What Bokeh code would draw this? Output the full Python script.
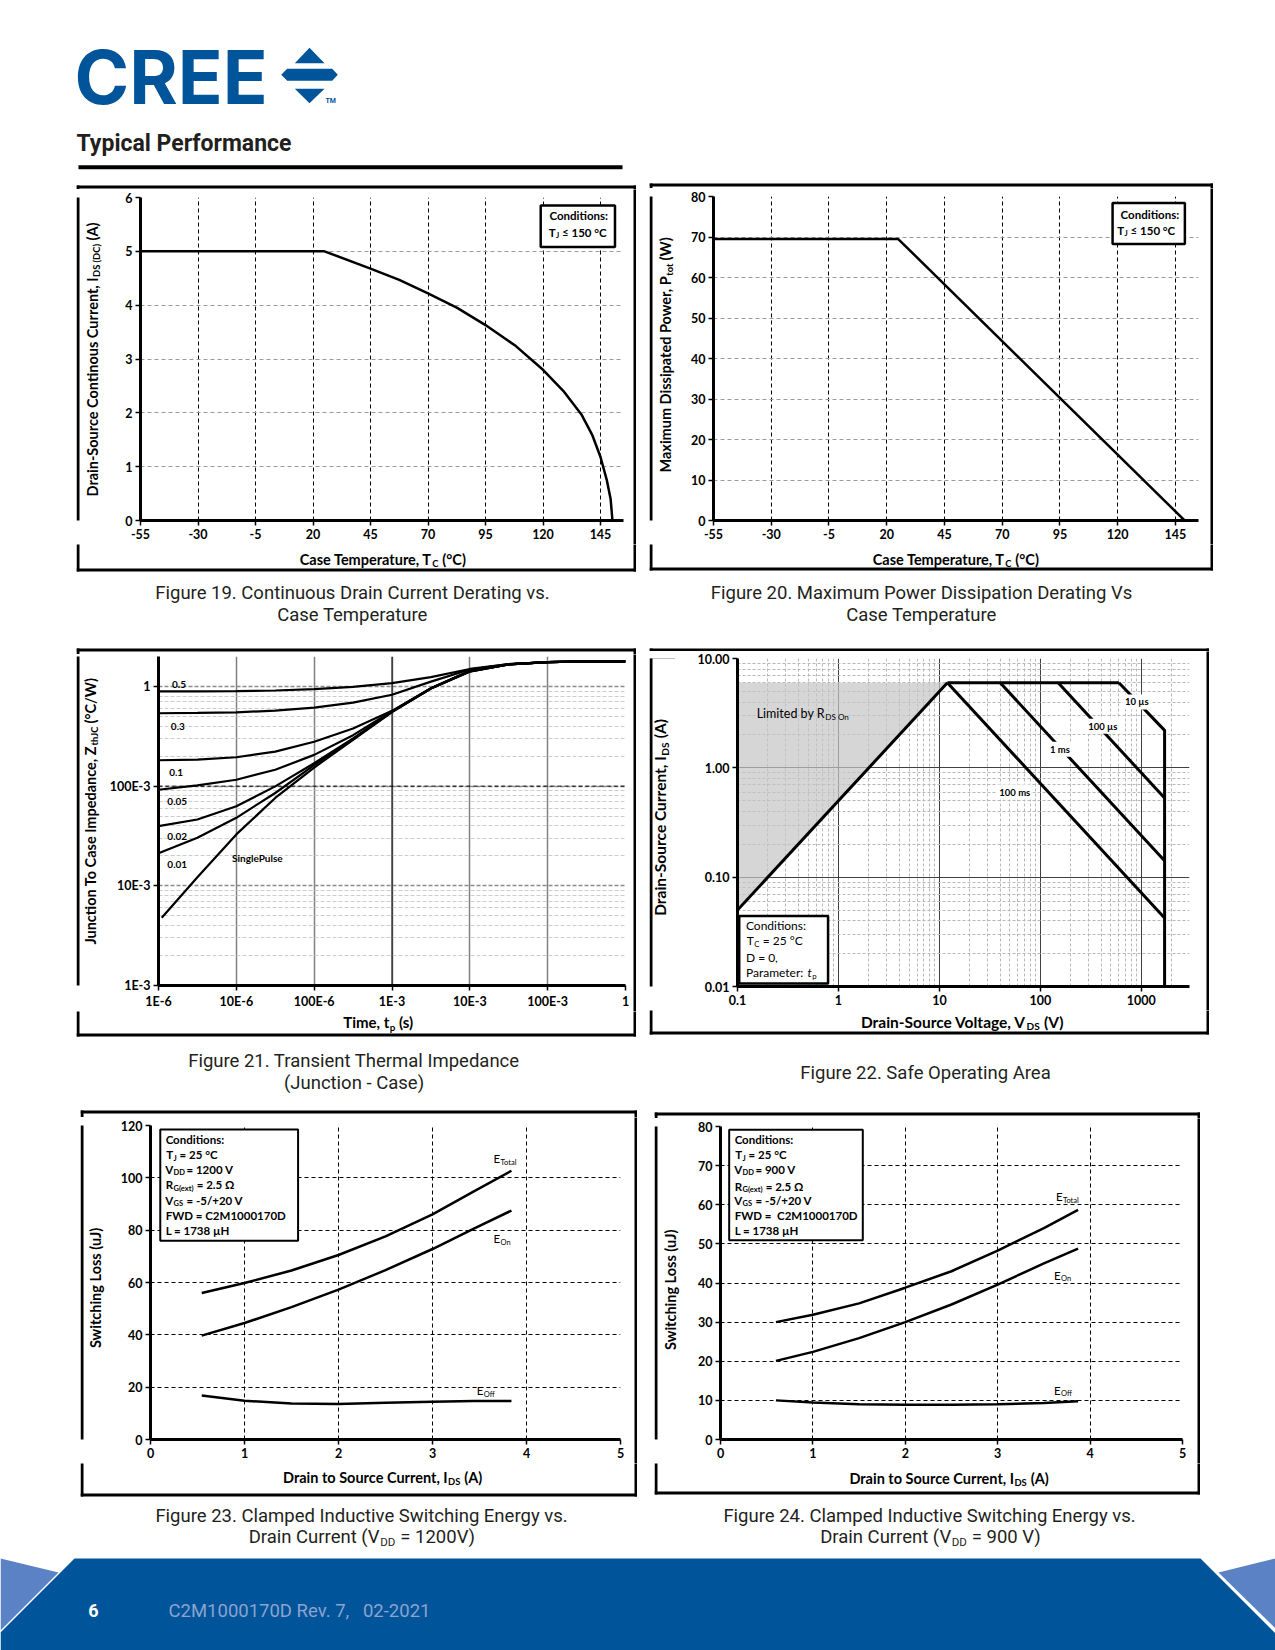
import math
from bokeh.plotting import figure
from bokeh.layouts import row, column
from bokeh.models import Range1d, Label, Spacer, FixedTicker, CustomJSTickFormatter, Span
from bokeh.embed import file_html
from bokeh.resources import INLINE

# ---------------- data ----------------
temp_ticks = [-55, -30, -5, 20, 45, 70, 95, 120, 145]

# Figure 19 : continuous drain current derating
tc_19 = [-55, 25, 45, 57.5, 70, 82.7, 95, 108.2, 120, 128.8, 136.7, 141.5, 145, 147.8, 149.4, 150.2]
ids_19 = [5.0, 5.0, 4.68, 4.47, 4.22, 3.95, 3.63, 3.24, 2.80, 2.41, 1.97, 1.58, 1.18, 0.74, 0.40, 0.0]
ids_ticks_19 = [0, 1, 2, 3, 4, 5, 6]

# Figure 20 : maximum power dissipation derating
tc_20 = [-55, 25, 149]
ptot_20 = [69.5, 69.5, 0.0]
ptot_ticks_20 = [0, 10, 20, 30, 40, 50, 60, 70, 80]

# Figure 21 : transient thermal impedance
tp_21 = [1e-6, 3.16e-6, 1e-5, 3.16e-5, 1e-4, 3.16e-4, 1e-3, 3.16e-3, 1e-2, 3.16e-2, 1e-1, 3.16e-1, 1.0]
zth_d050 = [0.892, 0.892, 0.899, 0.912, 0.941, 0.992, 1.08, 1.24, 1.50, 1.68, 1.76, 1.79, 1.79]
zth_d030 = [0.539, 0.543, 0.551, 0.573, 0.613, 0.688, 0.826, 1.12, 1.48, 1.68, 1.76, 1.79, 1.79]
zth_d010 = [0.182, 0.185, 0.195, 0.222, 0.279, 0.379, 0.570, 0.960, 1.44, 1.67, 1.76, 1.79, 1.79]
zth_d005 = [0.0921, 0.1018, 0.116, 0.146, 0.206, 0.325, 0.565, 0.958, 1.43, 1.67, 1.76, 1.79, 1.79]
zth_d002 = [0.0398, 0.0463, 0.0629, 0.0995, 0.170, 0.301, 0.560, 0.956, 1.42, 1.67, 1.76, 1.79, 1.79]
zth_d001 = [0.0212, 0.0304, 0.0481, 0.0854, 0.163, 0.297, 0.558, 0.955, 1.42, 1.67, 1.76, 1.79, 1.79]
tp_21_single = [1.1e-6, 3.16e-6, 1e-5, 3.16e-5, 1e-4, 3.16e-4, 1e-3, 3.16e-3, 1e-2, 3.16e-2, 1e-1, 3.16e-1, 1.0]
zth_single = [0.00479, 0.01217, 0.0328, 0.0761, 0.1538, 0.292, 0.555, 0.953, 1.41, 1.67, 1.76, 1.79, 1.79]
duty_names = ["0.5", "0.3", "0.1", "0.05", "0.02", "0.01", "SinglePulse"]
duty_label_t = [1.49e-6, 1.44e-6, 1.37e-6, 1.3e-6, 1.3e-6, 1.3e-6, 8.8e-6]
duty_label_z = [1.047, 0.394, 0.137, 0.0705, 0.0316, 0.01626, 0.0192]
tp_ticks_21 = [1e-6, 1e-5, 1e-4, 1e-3, 1e-2, 1e-1, 1.0]
tp_labels_21 = ["1E-6", "10E-6", "100E-6", "1E-3", "10E-3", "100E-3", "1"]
zth_ticks_21 = [1e-3, 1e-2, 1e-1, 1.0]
zth_labels_21 = ["1E-3", "10E-3", "100E-3", "1"]

# Figure 22 : safe operating area
vds_rds = [0.1, 12]
ids_rds = [0.05, 6]
vds_top = [12, 600]
ids_top = [6, 6]
vds_10us = [600, 1700, 1700]
ids_10us = [6, 2.2, 0.01]
vds_100us = [150, 1700]
ids_100us = [6, 0.53]
vds_1ms = [40, 1700]
ids_1ms = [6, 0.141]
vds_100ms = [12, 1700]
ids_100ms = [6, 0.0424]
shade_vds = [0.1, 0.1, 12]
shade_ids = [0.05, 6, 6]
soa_names = ["10 µs", "100 µs", "1 ms", "100 ms"]
soa_label_v = [902, 415, 156, 55.8]
soa_label_i = [4.01, 2.40, 1.48, 0.60]
vds_ticks_22 = [0.1, 1, 10, 100, 1000]
vds_labels_22 = ["0.1", "1", "10", "100", "1000"]
ids_ticks_22 = [0.01, 0.1, 1, 10]
ids_labels_22 = ["0.01", "0.10", "1.00", "10.00"]

# Figure 23 : switching energy, VDD = 1200 V
ids_23 = [0.545, 1.0, 1.5, 2.0, 2.5, 3.0, 3.44, 3.84]
etot_23 = [56.0, 59.8, 64.6, 70.5, 77.6, 86.0, 94.8, 102.7]
eon_23 = [39.7, 44.5, 50.6, 57.3, 64.7, 72.8, 80.6, 87.5]
eoff_23 = [16.8, 14.8, 13.8, 13.6, 14.0, 14.4, 14.7, 14.7]
e_ticks_23 = [0, 20, 40, 60, 80, 100, 120]

# Figure 24 : switching energy, VDD = 900 V
ids_24 = [0.6, 1.0, 1.5, 2.0, 2.5, 3.0, 3.5, 3.87]
etot_24 = [30.0, 31.9, 34.8, 38.8, 43.0, 48.3, 54.0, 58.7]
eon_24 = [20.1, 22.4, 25.9, 30.0, 34.5, 39.6, 45.0, 48.8]
eoff_24 = [10.0, 9.45, 9.0, 8.85, 8.85, 9.0, 9.36, 9.8]
e_ticks_24 = [0, 10, 20, 30, 40, 50, 60, 70, 80]
ids_ticks_sw = [0, 1, 2, 3, 4, 5]

# ---------------- helpers ----------------
NB = "\u00a0"
CW = {' ': 0.2, NB: 0.2, 'i': 0.25, 'l': 0.25, 'j': 0.25, 'I': 0.3, 't': 0.35, 'f': 0.33,
      'r': 0.37, 's': 0.42, 'c': 0.46, 'z': 0.44, 'J': 0.4, '.': 0.22, ',': 0.22, ':': 0.25,
      '(': 0.31, ')': 0.31, '-': 0.33, '/': 0.4, '°': 0.38, '=': 0.58, '+': 0.58, '≤': 0.58,
      'm': 0.82, 'w': 0.76, 'M': 0.88, 'W': 0.95, 'Ω': 0.72, 'µ': 0.56, 'y': 0.5, 'v': 0.5}


def est(s, size):
    w = 0.0
    for ch in s:
        if ch in CW:
            w += CW[ch]
        elif ch.isdigit():
            w += 0.58
        elif ch.isupper():
            w += 0.66
        else:
            w += 0.53
    return w * size


def nb(s):
    """keep leading/trailing/multiple spaces visible in SVG text"""
    if not s:
        return s
    n = len(s) - len(s.lstrip(" "))
    m = len(s) - len(s.rstrip(" "))
    core = s.strip(" ").replace("  ", NB + NB)
    return NB * n + core + NB * m


def put(p, x, y, text, units="data", xo=0.0, yo=0.0, size=12.0, align="left", style="bold",
        font="Lato", color="black", angle=0.0, baseline="middle", **kw):
    p.add_layout(Label(x=x, y=y, x_units=units, y_units=units, x_offset=xo, y_offset=yo,
                       text=nb(text), angle=angle, text_align=align, text_baseline=baseline,
                       text_font=font, text_font_size=f"{size:.1f}px", text_font_style=style,
                       text_color=color, **kw))


def rich(p, x, y, pre, sub="", post="", size=15.0, angle=0.0, align="center",
         style="bold", font="Lato", color="black", sub_scale=0.65, sub_style=None, shift=0.0):
    ssz = size * sub_scale
    w_pre, w_sub, w_post = est(pre, size), est(sub, ssz), est(post, size)
    total = w_pre + w_sub + w_post
    start = {"left": 0.0, "center": -total / 2.0, "right": -total}[align] + shift
    anchor = start + w_pre

    def one(text, d, drop, sz, ta, st):
        if not text:
            return
        if angle == 0:
            xo, yo = d, -drop
        else:
            xo, yo = drop, d
        put(p, x, y, text, xo=xo, yo=yo, size=sz, align=ta, style=st, font=font,
            color=color, angle=angle)

    if not sub and not post:
        one(pre, start, 0.0, size, "left", style)
        return
    one(pre, anchor, 0.0, size, "right", style)
    one(sub, anchor + 0.03 * size, 0.29 * size, ssz, "left", sub_style or style)
    one(post, anchor + w_sub + 0.05 * size, 0.0, size, "left", style)


def band(x0, x1, y0, y1):
    """a plain figure whose data units are page pixels (y grows downwards)"""
    f = figure(width=int(x1 - x0), height=int(y1 - y0), x_range=Range1d(x0, x1),
               y_range=Range1d(y1, y0), output_backend="svg", toolbar_location=None,
               min_border=0, x_axis_type=None, y_axis_type=None, title=None,
               background_fill_color="white", border_fill_color="white")
    f.outline_line_color = None
    return f


def blk(w, h):
    """solid black strip (used for the right-hand frame border)"""
    f = figure(width=int(w), height=int(h), output_backend="svg", toolbar_location=None,
               min_border=0, x_axis_type=None, y_axis_type=None, title=None,
               background_fill_color="black", border_fill_color="black")
    f.outline_line_color = None
    return f


LINFMT = "return String(tick);"
LOGFMT = """
let best = 0, bd = 1e9;
for (let i = 0; i < vals.length; i++) {
  const d = Math.abs(Math.log10(tick) - Math.log10(vals[i]));
  if (d < bd) { bd = d; best = i; }
}
return labs[best];
"""


def logfmt(vals, labs):
    return CustomJSTickFormatter(args=dict(vals=vals, labs=labs), code=LOGFMT)


def chart(frame, m, xr, yr, xt="linear", yt="linear"):
    fx0, fy0, fx1, fy1 = frame
    ml, mr, mt, mb = m
    p = figure(width=int(fx1 + mr - fx0 + ml), height=int(fy1 + mb - fy0 + mt),
               x_range=xr, y_range=yr, x_axis_type=xt, y_axis_type=yt,
               output_backend="svg", toolbar_location=None, title=None,
               min_border_left=ml, min_border_right=mr, min_border_top=mt, min_border_bottom=mb,
               background_fill_color="white", border_fill_color="white")
    p.outline_line_color = None
    for ax in (p.xaxis[0], p.yaxis[0]):
        ax.axis_line_width = 3
        ax.axis_line_color = "black"
        ax.major_tick_line_width = 1.5
        ax.major_tick_line_color = "black"
        ax.major_tick_in = 0
        ax.major_tick_out = 5
        ax.minor_tick_line_color = None
        ax.major_label_text_font = "Lato"
        ax.major_label_text_font_size = "12.5px"
        ax.major_label_text_font_style = "bold"
        ax.major_label_text_color = "black"
        ax.major_label_standoff = 3
        if (xt if ax is p.xaxis[0] else yt) == "linear":
            ax.formatter = CustomJSTickFormatter(code=LINFMT)
    return p


def set_ticks(p, xt, yt):
    p.xaxis[0].ticker = xt
    p.xgrid[0].ticker = xt
    p.yaxis[0].ticker = yt
    p.ygrid[0].ticker = yt


def dashed_grids(p, xcol, ycol):
    p.xgrid.grid_line_color = xcol
    p.xgrid.grid_line_dash = "4 3"
    p.xgrid.grid_line_width = 1
    p.ygrid.grid_line_color = ycol
    p.ygrid.grid_line_dash = "4 3"
    p.ygrid.grid_line_width = 1


def cond_box(p, l, r, b, t, lw=2.5):
    p.quad(left=[l], right=[r], bottom=[b], top=[t], fill_color="white", line_color="black",
           line_width=lw)


def block(p, box, frame, m, R0, R1, xtitle, ytitle):
    """chart figure surrounded by page-pixel bands holding the border and axis titles"""
    bx0, by0, bx1, by1 = box
    fx0, fy0, fx1, fy1 = frame
    ml, mr, mt, mb = m
    cx0, cx1, cy0, cy1 = fx0 - ml, fx1 + mr, fy0 - mt, fy1 + mb
    top = band(bx0, bx1, R0, cy0)
    left = band(bx0, cx0, cy0, cy1)
    bottom = band(bx0, bx1, cy1, R1)
    for f in (top, left, bottom):
        f.quad(left=[bx0, bx0, bx0, bx1 - 3], right=[bx1, bx1, bx0 + 3, bx1],
               top=[by0, by1 - 3, by0, by0], bottom=[by0 + 3, by1, by1, by1],
               fill_color="black", line_color=None)
    gap = (bx1 - 3) - cx1
    right_parts = ([Spacer(width=gap, height=cy1 - cy0)] if gap > 0 else []) + [blk(3, cy1 - cy0)]
    right = row(*right_parts)
    x, y, pre, sub, post, size = xtitle
    rich(bottom, x, y, pre, sub, post, size=size)
    x, y, pre, sub, post, size = ytitle
    rich(left, x, y, pre, sub, post, size=size, angle=math.pi / 2)
    return column(top, row(left, p, right), bottom)


# ---------------- page geometry (page pixels) ----------------
ROW_A = (170, 578)
ROW_B = (630, 1042)
ROW_C = (1095, 1500)

# ---------------- Figure 19 ----------------
F19, M19, B19 = (140, 197, 623, 520), (30, 5, 8, 24), (76, 185, 636, 571)
p19 = chart(F19, M19, Range1d(-55, 155), Range1d(0, 6))
set_ticks(p19, FixedTicker(ticks=temp_ticks), FixedTicker(ticks=ids_ticks_19))
dashed_grids(p19, "black", "#9a9a9a")
p19.line(tc_19, ids_19, line_width=2.5, color="black")
cond_box(p19, 119, 151.3, 5.08, 5.85)
rich(p19, 134.9, 5.66, "Conditions:", size=11.5)
rich(p19, 134.4, 5.35, "T", "J", " ≤ 150 °C", size=11.5)
blk19 = block(p19, B19, F19, M19, *ROW_A,
              (381.5, 559, "Case Temperature, T", "C", " (°C)", 14.5),
              (92, 363, "Drain-Source Continous Current, I", "DS (DC)", " (A)", 14.5))

# ---------------- Figure 20 ----------------
F20, M20, B20 = (713, 196, 1198, 520), (30, 5, 8, 24), (649, 183, 1213, 570)
p20 = chart(F20, M20, Range1d(-55, 155), Range1d(0, 80))
set_ticks(p20, FixedTicker(ticks=temp_ticks), FixedTicker(ticks=ptot_ticks_20))
dashed_grids(p20, "black", "#9a9a9a")
p20.line(tc_20, ptot_20, line_width=2.5, color="black")
cond_box(p20, 117.8, 149.1, 68.3, 78.4)
rich(p20, 133.3, 75.6, "Conditions:", size=11.5)
rich(p20, 131.7, 71.6, "T", "J", " ≤ 150 °C", size=11.5)
blk20 = block(p20, B20, F20, M20, *ROW_A,
              (954.5, 559, "Case Temperature, T", "C", " (°C)", 14.5),
              (665, 360, "Maximum Dissipated Power, P", "tot", " (W)", 14.5))

# ---------------- Figure 21 ----------------
F21, M21, B21 = (158, 656, 625, 987), (55, 6, 2, 24), (76, 648, 636, 1036)
p21 = chart(F21, M21, Range1d(1e-6, 1.0), Range1d(1e-3, 2.0), "log", "log")
zminor = [k * 10.0 ** e for e in range(-3, 0) for k in range(2, 10)] + [2.0]
set_ticks(p21, FixedTicker(ticks=tp_ticks_21, minor_ticks=[]),
          FixedTicker(ticks=zth_ticks_21, minor_ticks=zminor))
p21.xaxis[0].formatter = logfmt(tp_ticks_21, tp_labels_21)
p21.yaxis[0].formatter = logfmt(zth_ticks_21, zth_labels_21)
p21.xgrid.grid_line_color = "#808080"
p21.xgrid.grid_line_width = 1.5
p21.ygrid.grid_line_color = "#8c8c8c"
p21.ygrid.grid_line_dash = "4 2"
p21.ygrid.grid_line_width = 1.5
p21.ygrid.minor_grid_line_color = "#cccccc"
p21.ygrid.minor_grid_line_dash = "4 2"
p21.ygrid.minor_grid_line_width = 1
p21.add_layout(Span(location=1e-3, dimension="height", line_color="black", line_width=1,
                    level="underlay"))
p21.add_layout(Span(location=0.1, dimension="width", line_color="black", line_width=1,
                    line_dash="4 3", level="underlay"))
for z in (zth_d050, zth_d030, zth_d010, zth_d005, zth_d002, zth_d001):
    p21.line(tp_21, z, line_width=2.2, color="black")
p21.line(tp_21_single, zth_single, line_width=2.2, color="black")
for name, tx, zy in zip(duty_names, duty_label_t, duty_label_z):
    put(p21, tx, zy, name, size=10)
blk21 = block(p21, B21, F21, M21, *ROW_B,
              (378, 1021.7, "Time, t", "p", " (s)", 15),
              (90, 821, "Junction To Case Impedance, Z", "thJC", " (°C/W)", 14.5))

# ---------------- Figure 22 ----------------
F22, M22, B22 = (737, 658, 1189, 986), (62, 6, 7, 24), (649, 648, 1209, 1034)
p22 = chart(F22, M22, Range1d(0.1, 3000), Range1d(0.01, 10), "log", "log")
vminor = [k * 10.0 ** e for e in range(-1, 4) for k in range(2, 10) if k * 10.0 ** e <= 3000]
iminor = [k * 10.0 ** e for e in range(-2, 1) for k in range(2, 10)]
set_ticks(p22, FixedTicker(ticks=vds_ticks_22, minor_ticks=vminor),
          FixedTicker(ticks=ids_ticks_22, minor_ticks=iminor))
p22.xaxis[0].formatter = logfmt(vds_ticks_22, vds_labels_22)
p22.yaxis[0].formatter = logfmt(ids_ticks_22, ids_labels_22)
for g in (p22.xgrid, p22.ygrid):
    g.grid_line_color = "#404040"
    g.grid_line_width = 1
    g.minor_grid_line_color = "#b8b8b8"
    g.minor_grid_line_dash = "3 2"
    g.minor_grid_line_width = 1
p22.patch(shade_vds, shade_ids, fill_color="#c4c4c4", fill_alpha=0.7, line_color=None)
for vv, ii in ((vds_rds, ids_rds), (vds_top, ids_top), (vds_10us, ids_10us),
               (vds_100us, ids_100us), (vds_1ms, ids_1ms), (vds_100ms, ids_100ms)):
    p22.line(vv, ii, line_width=3, color="black")
for name, vx, iy in zip(soa_names, soa_label_v, soa_label_i):
    put(p22, vx, iy, name, size=9.5, align="center", background_fill_color="white", padding=2)
rich(p22, 0.154, 3.14, "Limited by R", "DS On", "", size=12.5, align="left", style="normal")
cond_box(p22, 0.104, 0.789, 0.01064, 0.0442)
rich(p22, 0.1212, 0.0363, "Conditions:", size=12, align="left", style="normal")
rich(p22, 0.1212, 0.0261, "T", "C", " = 25 °C", size=12, align="left", style="normal")
rich(p22, 0.1212, 0.0186, "D = 0,", size=12, align="left", style="normal")
rich(p22, 0.1212, 0.0134, "Parameter:", size=12, align="left", style="normal")
rich(p22, 0.1212, 0.0134, "t", "p", "", size=12, align="left", style="italic",
     sub_style="normal", shift=est("Parameter: ", 12))
blk22 = block(p22, B22, F22, M22, *ROW_B,
              (963, 1021.5, "Drain-Source Voltage, V", "DS", " (V)", 15.5),
              (659.6, 823, "Drain-Source Current, I", "DS", " (A)", 15.5))


# ---------------- Figures 23 / 24 ----------------
def switching(frame, m, ymax, yticks, xs, et, eo, ef, box, lines, lab):
    p = chart(frame, m, Range1d(0, 5), Range1d(0, ymax))
    set_ticks(p, FixedTicker(ticks=ids_ticks_sw), FixedTicker(ticks=yticks))
    dashed_grids(p, "black", "black")
    for yy in (et, eo, ef):
        p.line(xs, yy, line_width=2.5, color="black")
    cond_box(p, *box, lw=2)
    for (lx, ly, pre, sub, post) in lines:
        rich(p, lx, ly, pre, sub, post, size=11.5, align="left")
    for (lx, ly, sub) in lab:
        rich(p, lx, ly, "E", sub, "", size=11.5, align="left", style="normal")
    return p


lx23 = 0.161
lines23 = [(lx23, 114.5, "Conditions:", "", ""), (lx23, 108.8, "T", "J", " = 25 °C"),
           (lx23, 103.2, "V", "DD", " = 1200 V"), (lx23, 97.3, "R", "G(ext)", " = 2.5 Ω"),
           (lx23, 91.5, "V", "GS", " = -5/+20 V"), (lx23, 85.6, "FWD = C2M1000170D", "", ""),
           (lx23, 79.7, "L = 1738 µH", "", "")]
lab23 = [(3.64, 107.3, "Total"), (3.64, 76.7, "On"), (3.46, 18.6, "Off")]
F23, M23, B23 = (149, 1125, 620, 1439), (32, 6, 8, 24), (80, 1110, 637, 1496)
p23 = switching(F23, M23, 120, e_ticks_23, ids_23, etot_23, eon_23, eoff_23,
                (0.104, 1.57, 76.0, 118.5), lines23, lab23)
blk23 = block(p23, B23, F23, M23, *ROW_C,
              (384.6, 1476.7, "Drain to Source Current, I", "DS", " (A)", 14.5),
              (95, 1296, "Switching Loss (uJ)", "", "", 14.5))

lx24 = 0.153
lines24 = [(lx24, 76.6, "Conditions:", "", ""), (lx24, 72.8, "T", "J", " = 25 °C"),
           (lx24, 69.0, "V", "DD", " = 900 V"), (lx24, 64.7, "R", "G(ext)", " = 2.5 Ω"),
           (lx24, 61.1, "V", "GS", " = -5/+20 V"), (lx24, 57.3, "FWD =  C2M1000170D", "", ""),
           (lx24, 53.4, "L = 1738 µH", "", "")]
lab24 = [(3.62, 62.0, "Total"), (3.6, 42.0, "On"), (3.6, 12.6, "Off")]
F24, M24, B24 = (720, 1126, 1182, 1439), (30, 6, 8, 24), (654, 1112, 1200, 1494)
p24 = switching(F24, M24, 80, e_ticks_24, ids_24, etot_24, eon_24, eoff_24,
                (0.094, 1.54, 50.9, 79.2), lines24, lab24)
blk24 = block(p24, B24, F24, M24, *ROW_C,
              (951, 1477.7, "Drain to Source Current, I", "DS", " (A)", 14.5),
              (670, 1298, "Switching Loss (uJ)", "", "", 14.5))

# ---------------- page furniture ----------------
BLUE = "#00549A"
LIGHT = "#5A82C4"
TXT = "#231F20"

header = band(0, 1275, 0, ROW_A[0])
header.add_layout(Label(x=74, y=76.5, text="CREE", text_font="Inter", text_font_style="bold",
                        text_font_size="74px", text_color=BLUE, text_baseline="middle"))
header.patches(xs=[[294.3, 309, 324], [280.7, 286.7, 331.7, 337.3, 331.7, 286.7],
                   [294.3, 324, 309]],
               ys=[[62.7, 47.3, 62.7], [74.3, 68.3, 68.3, 74.3, 80.3, 80.3],
                   [88.3, 88.3, 102.7]], fill_color=BLUE, line_color=None)
header.add_layout(Label(x=325, y=100, text="TM", text_font="Roboto", text_font_style="bold",
                        text_font_size="7px", text_color=BLUE, text_baseline="middle"))
header.add_layout(Label(x=76, y=143, text="Typical Performance", text_font="Roboto",
                        text_font_style="bold", text_font_size="23px", text_color=TXT,
                        text_baseline="middle"))
header.quad(left=[78], right=[622], top=[164.7], bottom=[168.7], fill_color="black",
            line_color=None)


def caption(f, x, y, text):
    f.add_layout(Label(x=x, y=y, text=text, text_font="Roboto", text_font_size="18.5px",
                       text_color=TXT, text_align="center", text_baseline="middle"))


capA = band(0, 1275, ROW_A[1], ROW_B[0])
caption(capA, 352, 592, "Figure 19. Continuous Drain Current Derating vs.")
caption(capA, 352, 614, "Case Temperature")
caption(capA, 921, 592, "Figure 20. Maximum Power Dissipation Derating Vs")
caption(capA, 921, 614, "Case Temperature")

capB = band(0, 1275, ROW_B[1], ROW_C[0])
caption(capB, 353.5, 1060.4, "Figure 21. Transient Thermal Impedance")
caption(capB, 353.5, 1082.5, "(Junction - Case)")
caption(capB, 925, 1072, "Figure 22. Safe Operating Area")

footer = band(0, 1275, ROW_C[1], 1650)
caption(footer, 361, 1515, "Figure 23. Clamped Inductive Switching Energy vs.")
caption(footer, 929, 1515, "Figure 24. Clamped Inductive Switching Energy vs.")
rich(footer, 361, 1536, "Drain Current (V", "DD", " = 1200V)", size=18.5, font="Roboto",
     style="normal", color=TXT, sub_scale=0.62)
rich(footer, 929, 1536, "Drain Current (V", "DD", " = 900 V)", size=18.5, font="Roboto",
     style="normal", color=TXT, sub_scale=0.62)
footer.patch([74, 1200, 1275, 1275, 0, 0], [1558, 1558, 1633, 1650, 1650, 1632],
             fill_color=BLUE, line_color=None)
footer.patch([0, 58, 0], [1558, 1572, 1630], fill_color=LIGHT, line_color=None)
footer.patch([1218, 1275, 1275], [1572, 1558, 1628], fill_color=LIGHT, line_color=None)
footer.add_layout(Label(x=93, y=1610, text="6", text_font="Roboto", text_font_style="bold",
                        text_font_size="18px", text_color="white", text_align="center",
                        text_baseline="middle"))
footer.add_layout(Label(x=168, y=1610, text=nb("C2M1000170D Rev. 7,   02-2021"),
                        text_font="Roboto", text_font_size="18.5px", text_color="#8CA3CF",
                        text_baseline="middle"))

# ---------------- assemble page ----------------
hA = ROW_A[1] - ROW_A[0]
hB = ROW_B[1] - ROW_B[0]
hC = ROW_C[1] - ROW_C[0]
rowA = row(Spacer(width=76, height=hA), blk19, Spacer(width=13, height=hA), blk20,
           Spacer(width=62, height=hA))
rowB = row(Spacer(width=76, height=hB), blk21, Spacer(width=13, height=hB), blk22,
           Spacer(width=66, height=hB))
rowC = row(Spacer(width=80, height=hC), blk23, Spacer(width=17, height=hC), blk24,
           Spacer(width=75, height=hC))

page = column(header, rowA, capA, rowB, capB, rowC, footer)

with open("out.html", "w", encoding="utf-8") as fh:
    fh.write(file_html(page, INLINE))
